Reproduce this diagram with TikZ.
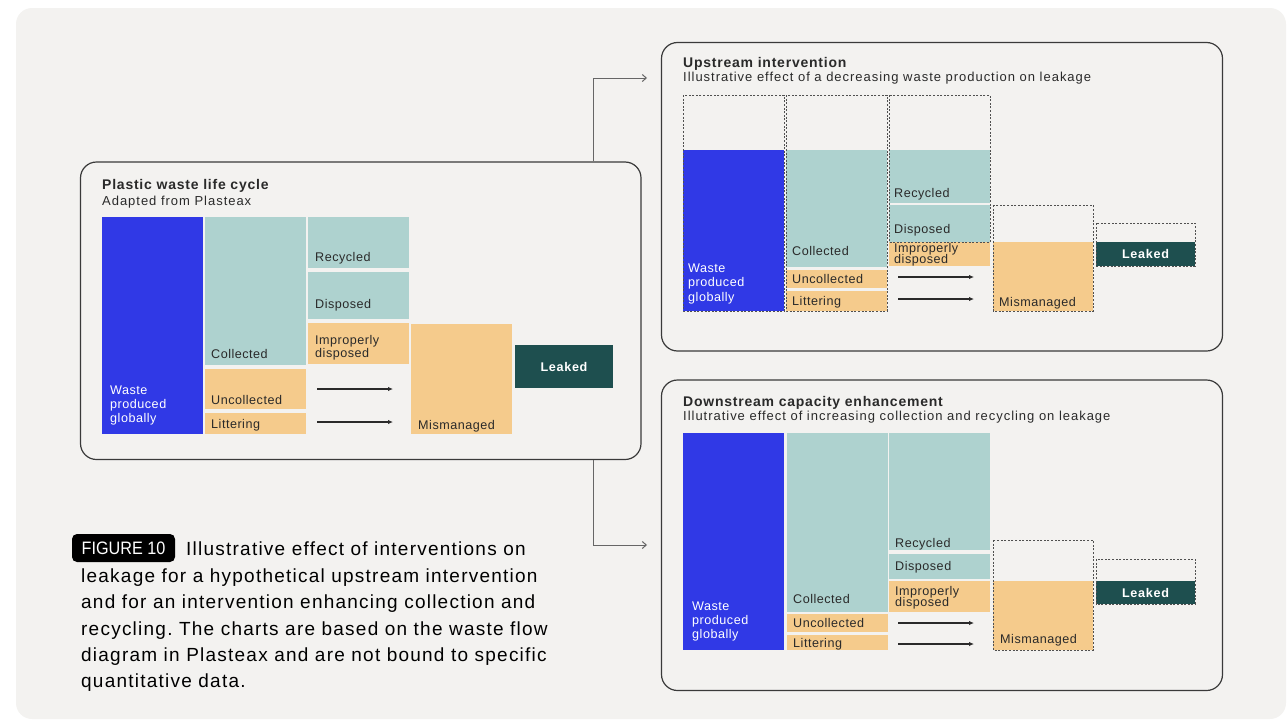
\documentclass[tikz,border=0pt]{standalone}
\usepackage{fontspec}
\setmainfont{Liberation Sans}
\newfontfamily\condfont[FakeStretch=0.9]{Liberation Sans}
\newfontfamily\lblfont[LetterSpace=4]{Liberation Sans}
\newfontfamily\subfont[LetterSpace=7.5]{Liberation Sans}
\newfontfamily\ttlfont[LetterSpace=5.5]{Liberation Sans}
\newfontfamily\capfont[LetterSpace=6.5]{Liberation Sans}
\usetikzlibrary{arrows.meta,calc,fit}
\definecolor{bgc}{HTML}{F3F2F0}
\definecolor{blueC}{HTML}{3039E6}
\definecolor{tealC}{HTML}{AED2CF}
\definecolor{orgC}{HTML}{F5CB8C}
\definecolor{dkC}{HTML}{1E4F4F}
\definecolor{txtC}{HTML}{2A2A2A}
\definecolor{bordC}{HTML}{3A3A3A}
\definecolor{connC}{HTML}{666666}
\definecolor{dashC}{HTML}{505050}
\tikzset{
  barbox/.style={inner sep=0pt, outer sep=0pt, draw=none},
  panel/.style={draw=bordC, line width=1.2pt, rounded corners=16pt},
  ghost/.style={draw=dashC, line width=0.8pt, dash pattern=on 2pt off 1.6pt},
  lbl/.style={inner sep=0pt, anchor=base west, text=txtC, font=\lblfont\fontsize{12.6}{13}\selectfont},
  wlbl/.style={lbl, text=white},
  ttl/.style={inner sep=0pt, anchor=base west, text=txtC, font=\ttlfont\fontsize{14}{16}\selectfont\bfseries},
  sub/.style={inner sep=0pt, anchor=base west, text=txtC, font=\subfont\fontsize{13}{15}\selectfont},
  leak/.style={text=white, font=\ttlfont\fontsize{12.6}{13}\selectfont\bfseries},
  conn/.style={draw=connC, line width=1pt, -{Straight Barb[length=4pt,width=7pt]}},
  flow/.style={draw=txtC, line width=1.1pt, -{Latex[length=5pt,width=4.5pt]}},
  captxt/.style={inner sep=0pt, anchor=base west, text=black, font=\capfont\fontsize{19}{20}\selectfont\frenchspacing},
}
\newcommand\rbar[6]{\node[barbox, fill=#6, fit={(#2,#3)(#4,#5)}] (#1) {};}
\newcommand\lab[4]{\node[lbl] (#1) at (#2,#3) {#4};}
\newcommand\wlab[4]{\node[wlbl] (#1) at (#2,#3) {#4};}
\begin{document}
\begin{tikzpicture}[x=1pt,y=-1pt]
\useasboundingbox (0,0) rectangle (1287,720);
\fill[bgc, rounded corners=16pt] (16,8) rectangle (1286,719);

% ---------------- Left panel
\node[panel, fit={(80.5,162)(641,459.5)}, inner sep=0pt] (L) {};
\node[ttl] (Lt) at (102,189.5) {Plastic waste life cycle};
\node[sub] (Ls) at (102,205) {Adapted from Plasteax};
\rbar{LW}{102}{217}{203}{434}{blueC}
\rbar{LC}{205}{217}{306}{365}{tealC}
\rbar{LU}{205}{369}{306}{409}{orgC}
\rbar{LL}{205}{413}{306}{434}{orgC}
\rbar{LR}{308}{217}{409}{268}{tealC}
\rbar{LD}{308}{272}{409}{319}{tealC}
\rbar{LI}{308}{323}{409}{364}{orgC}
\rbar{LM}{411}{324}{512}{434}{orgC}
\rbar{LK}{515}{345}{613}{388}{dkC}
\wlab{LWa}{110}{394}{Waste}
\wlab{LWb}{110}{408}{produced}
\wlab{LWc}{110}{422}{globally}
\lab{LCa}{211}{358}{Collected}
\lab{LUa}{211}{404.5}{Uncollected}
\lab{LLa}{211}{428.5}{Littering}
\lab{LRa}{315}{261.5}{Recycled}
\lab{LDa}{315}{308.5}{Disposed}
\lab{LIa}{315}{344}{Improperly}
\lab{LIb}{315}{357}{disposed}
\lab{LMa}{418}{429}{Mismanaged}
\node[leak] (LKa) at (LK.center) {Leaked};
\coordinate (la1) at (317,389); \coordinate (lb1) at (393,389);
\coordinate (la2) at (317,422); \coordinate (lb2) at (393,422);
\draw[flow] (la1) -- (lb1);
\draw[flow] (la2) -- (lb2);

% ---------------- Upstream panel
\node[panel, fit={(661.5,42.5)(1222.5,351)}, inner sep=0pt] (U) {};
\node[ttl] (Ut) at (683,67) {Upstream intervention};
\node[sub] (Us) at (683,81) {Illustrative effect of a decreasing waste production on leakage};
\rbar{UW}{683}{150}{784}{311}{blueC}
\rbar{UC}{786}{150}{887}{267}{tealC}
\rbar{UU}{786}{270}{887}{288}{orgC}
\rbar{UL}{786}{291}{887}{311}{orgC}
\rbar{UR}{889}{150}{990}{203}{tealC}
\rbar{UD}{889}{205}{990}{242}{tealC}
\rbar{UI}{889}{242}{990}{266}{orgC}
\rbar{UM}{993}{242}{1093}{311}{orgC}
\rbar{UK}{1096}{242}{1195}{266}{dkC}
\draw[ghost] (683,95) rectangle (784,311);
\draw[ghost] (786,95) rectangle (887,311);
\draw[ghost] (889,95) rectangle (990,242);
\draw[ghost] (993,205) rectangle (1093,311);
\draw[ghost] (1096,223) rectangle (1195,266);
\wlab{UWa}{688}{272.5}{Waste}
\wlab{UWb}{688}{286.5}{produced}
\wlab{UWc}{688}{301}{globally}
\lab{UCa}{792}{255.5}{Collected}
\lab{UUa}{792}{283.5}{Uncollected}
\lab{ULa}{792}{305.5}{Littering}
\lab{URa}{894}{197}{Recycled}
\lab{UDa}{894}{233.5}{Disposed}
\lab{UIa}{894}{252}{Improperly}
\lab{UIb}{894}{263}{disposed}
\lab{UMa}{999}{306}{Mismanaged}
\node[leak] (UKa) at (UK.center) {Leaked};
\coordinate (ua1) at (898,277); \coordinate (ub1) at (974,277);
\coordinate (ua2) at (898,299); \coordinate (ub2) at (974,299);
\draw[flow] (ua1) -- (ub1);
\draw[flow] (ua2) -- (ub2);

% ---------------- Downstream panel
\node[panel, fit={(661.5,380)(1222.5,690.5)}, inner sep=0pt] (D) {};
\node[ttl] (Dt) at (683,406) {Downstream capacity enhancement};
\node[sub] (Ds) at (683,420.5) {Illutrative effect of increasing collection and recycling on leakage};
\rbar{DW}{683}{433}{784}{650}{blueC}
\rbar{DC}{787}{433}{888}{612}{tealC}
\rbar{DU}{787}{614}{888}{632}{orgC}
\rbar{DL}{787}{635}{888}{650}{orgC}
\rbar{DR}{889}{433}{990}{550}{tealC}
\rbar{DD}{889}{554}{990}{579}{tealC}
\rbar{DI}{889}{581}{990}{612}{orgC}
\rbar{DM}{993}{581}{1093}{650}{orgC}
\rbar{DK}{1096}{581}{1195}{604}{dkC}
\draw[ghost] (993,540) rectangle (1093,650);
\draw[ghost] (1096,559) rectangle (1195,604);
\wlab{DWa}{692}{610.5}{Waste}
\wlab{DWb}{692}{624.5}{produced}
\wlab{DWc}{692}{638.5}{globally}
\lab{DCa}{793}{603.5}{Collected}
\lab{DUa}{793}{627.5}{Uncollected}
\lab{DLa}{793}{647}{Littering}
\lab{DRa}{895}{547}{Recycled}
\lab{DDa}{895}{570.5}{Disposed}
\lab{DIa}{895}{595}{Improperly}
\lab{DIb}{895}{606}{disposed}
\lab{DMa}{1000}{643}{Mismanaged}
\node[leak] (DKa) at (DK.center) {Leaked};
\coordinate (da1) at (898,623); \coordinate (db1) at (974,623);
\coordinate (da2) at (898,644); \coordinate (db2) at (974,644);
\draw[flow] (da1) -- (db1);
\draw[flow] (da2) -- (db2);

% ---------------- connectors
\coordinate (cu) at (647,78);
\coordinate (cd) at (647,545);
\draw[conn] (L.north -| 593,0) |- (cu);
\draw[conn] (L.south -| 593,0) |- (cd);

% ---------------- caption
\node[fill=black, rounded corners=5pt, inner sep=0pt, fit={(72,534)(175,562)}] (FB) {};
\node[inner sep=0pt, text=white, font=\condfont\fontsize{18}{20}\selectfont] (FT) at (FB.center) {FIGURE 10};
\node[captxt] (C1) at (186,555) {Illustrative effect of interventions on};
\node[captxt] (C2) at (81,582) {leakage for a hypothetical upstream intervention};
\node[captxt] (C3) at (81,608) {and for an intervention enhancing collection and};
\node[captxt] (C4) at (81,635) {recycling. The charts are based on the waste flow};
\node[captxt] (C5) at (81,661) {diagram in Plasteax and are not bound to specific};
\node[captxt] (C6) at (81,687) {quantitative data.};
\end{tikzpicture}
\end{document}
